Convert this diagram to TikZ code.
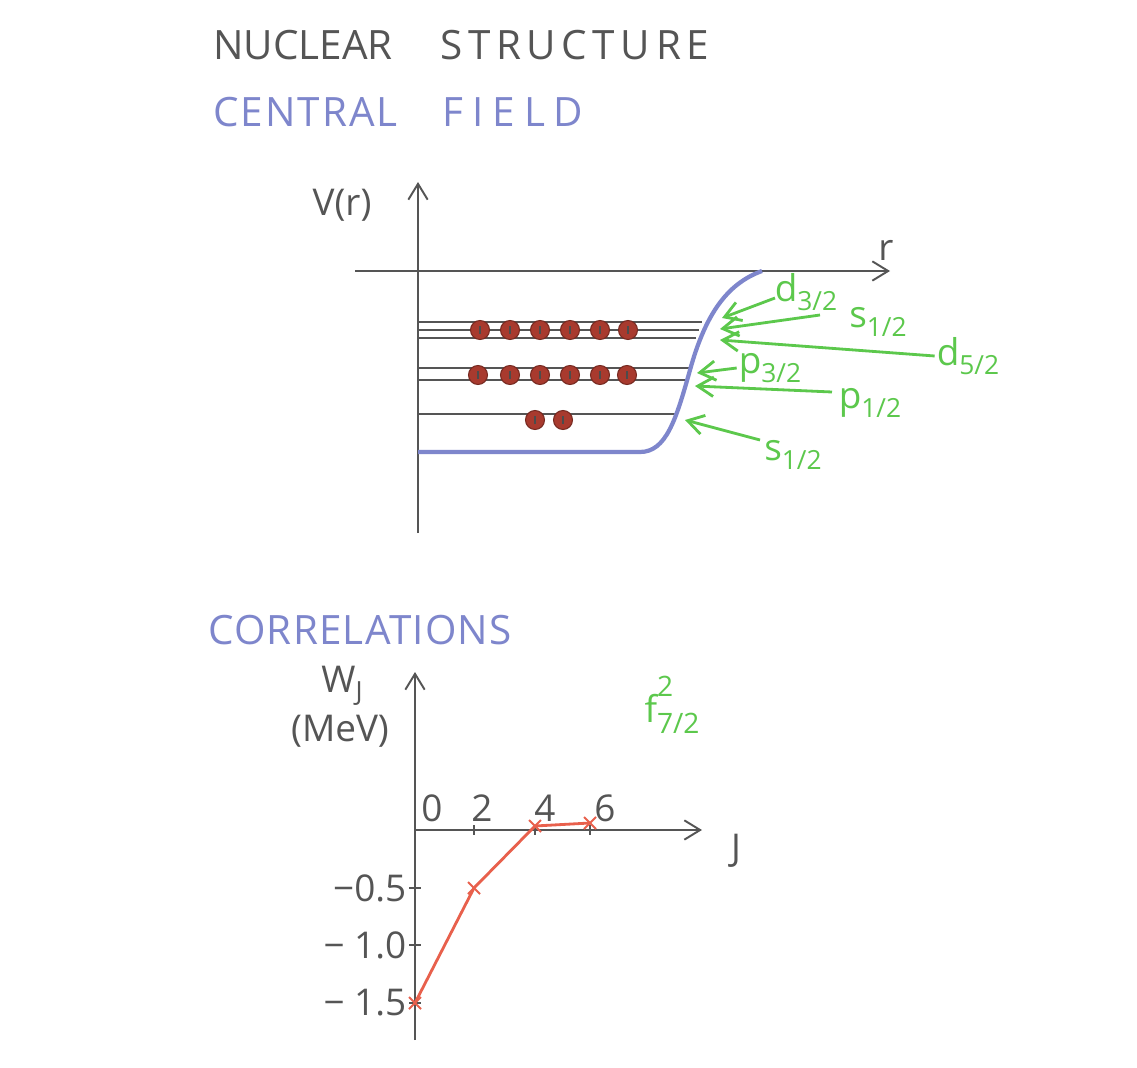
\documentclass[tikz,border=0pt]{standalone}
\usepackage{fontspec}
\setmainfont{Open Sans}
\usetikzlibrary{arrows.meta}

\definecolor{pencil}{HTML}{555555}
\definecolor{wellblue}{HTML}{7E86CC}
\definecolor{lblgreen}{HTML}{5CC84C}
\definecolor{nucred}{HTML}{A83A2E}
\definecolor{corrred}{HTML}{E8604C}

\newcommand{\orb}[2]{#1\raisebox{-0.45ex}{\fontsize{15}{16}\selectfont #2}}
\newcommand{\spaced}[2]{{\addfontfeature{LetterSpace=#1}#2}}

\tikzset{
    axis/.style={pencil, line width=1.1pt},
    level/.style={pencil, line width=1.2pt},
    well/.style={wellblue, line width=2.4pt},
    title/.style={anchor=west, inner sep=0pt, font=\fontsize{23}{28}\selectfont},
    axlabel/.style={pencil, inner sep=1pt, font=\fontsize{21}{24}\selectfont},
    orbit/.style={lblgreen, inner sep=1pt, font=\fontsize{21}{24}\selectfont},
    pointer/.style={lblgreen, line width=1.6pt, ->},
    nucleon/.style={fill=nucred, draw=nucred!70!black, line width=0.6pt},
    xmark/.style={corrred, line width=1.2pt},
}

\begin{document}
\begin{tikzpicture}[x=0.02cm, y=-0.02cm, >={Straight Barb[length=9pt,width=11pt]}]
    \useasboundingbox[fill=white] (0,0) rectangle (1137,1068);

    % headings
    \node[title, pencil] (head) at (213,45) {NUCLEAR\hspace{0.95cm}\spaced{14}{STRUCTURE}};
    \node[title, wellblue] (field) at (213,112) {\spaced{5}{CENTRAL}\hspace{0.9cm}\spaced{22}{FIELD}};

    % potential axes
    \coordinate (vbot) at (418,533);
    \coordinate (vtop) at (418,182);
    \coordinate (zleft) at (355,271);
    \coordinate (zright) at (890,271);
    \draw[axis, ->] (vbot) -- (vtop);
    \draw[axis, ->] (zleft) -- (zright);
    \node[axlabel] (vlab) at (342,205) {V(r)};
    \node[axlabel] (zlab) at (886,250) {r};

    % single particle levels
    \foreach \y/\xe in {322/702, 330/699, 338/696, 368/690, 380/688, 414/676}
        \draw[level] (418,\y) -- (\xe,\y);

    % well
    \draw[well] (418,452) -- (640,452)
        .. controls (666,452) and (676,420) .. (690,370)
        .. controls (705,316) and (726,284) .. (762,271);

    % nucleons
    \foreach \x/\y in {480/330,510/330,540/330,570/330,600/330,628/330,
                       478/375,510/375,540/375,570/375,600/375,627/375,
                       535/420,563/420} {
        \filldraw[nucleon] (\x,\y) circle (9.5);
        \draw[black!70, line width=0.8pt] (\x,\y-4) -- (\x,\y+4);
    }

    % orbit labels
    \node[orbit] (d32) at (806,292) {\orb{d}{3/2}};
    \node[orbit] (s12a) at (878,322) {\orb{s}{1/2}};
    \node[orbit] (d52) at (968,356) {\orb{d}{5/2}};
    \node[orbit] (p32) at (770,368) {\orb{p}{3/2}};
    \node[orbit] (p12) at (870,403) {\orb{p}{1/2}};
    \node[orbit] (s12b) at (793,455) {\orb{s}{1/2}};

    \coordinate (t1) at (722,318);
    \coordinate (t2) at (720,329);
    \coordinate (t3) at (720,340);
    \coordinate (t4) at (697,373);
    \coordinate (t5) at (695,386);
    \coordinate (t6) at (685,420);
    \draw[pointer] (775,298) -- (t1);
    \draw[pointer] (820,315) -- (t2);
    \draw[pointer] (d52.west) -- (t3);
    \draw[pointer] (p32.west) -- (t4);
    \draw[pointer] (832,392) -- (t5);
    \draw[pointer] (760,440) -- (t6);

    % correlations
    \node[title, wellblue] (corr) at (208,630) {\spaced{3}{CORRELATIONS}};

    \coordinate (wbot) at (415,1040);
    \coordinate (wtop) at (415,672);
    \coordinate (jleft) at (415,830);
    \coordinate (jright) at (702,830);
    \draw[axis, ->] (wbot) -- (wtop);
    \draw[axis, ->] (jleft) -- (jright);
    \node[axlabel] (wlab) at (342,686) {W\raisebox{-0.4ex}{\fontsize{15}{16}\selectfont J}};
    \node[axlabel] (mev) at (340,731) {(MeV)};
    \node[axlabel] (jlab) at (736,851) {J};
    \node[orbit] (f72) at (672,705) {f\rlap{\raisebox{1.3ex}{\fontsize{16}{17}\selectfont 2}}\raisebox{-0.6ex}{\fontsize{16}{17}\selectfont 7/2}};

    \foreach \x/\j in {432/0, 482/2, 545/4, 605/6}
        \node[axlabel] (j\j) at (\x,808) {\j};
    \foreach \x in {474,535,590}
        \draw[axis] (\x,825) -- (\x,835);
    \foreach \y/\w in {888/−0.5, 945/− 1.0, 1003/− 1.5}
        \draw[axis] (409,\y) -- (421,\y) node[axlabel, anchor=east, pos=0] (w\y) {\w};

    % two particle energies
    \coordinate (e0) at (415,1003);
    \coordinate (e2) at (474,888);
    \coordinate (e4) at (535,826);
    \coordinate (e6) at (590,823);
    \draw[corrred, line width=1.6pt] (e0) -- (e2) -- (e4) -- (e6);
    \foreach \p in {e0,e2,e4,e6}
        \draw[xmark] ([shift={(-6,-6)}]\p) -- ([shift={(6,6)}]\p)
                     ([shift={(-6,6)}]\p) -- ([shift={(6,-6)}]\p);
\end{tikzpicture}
\end{document}
